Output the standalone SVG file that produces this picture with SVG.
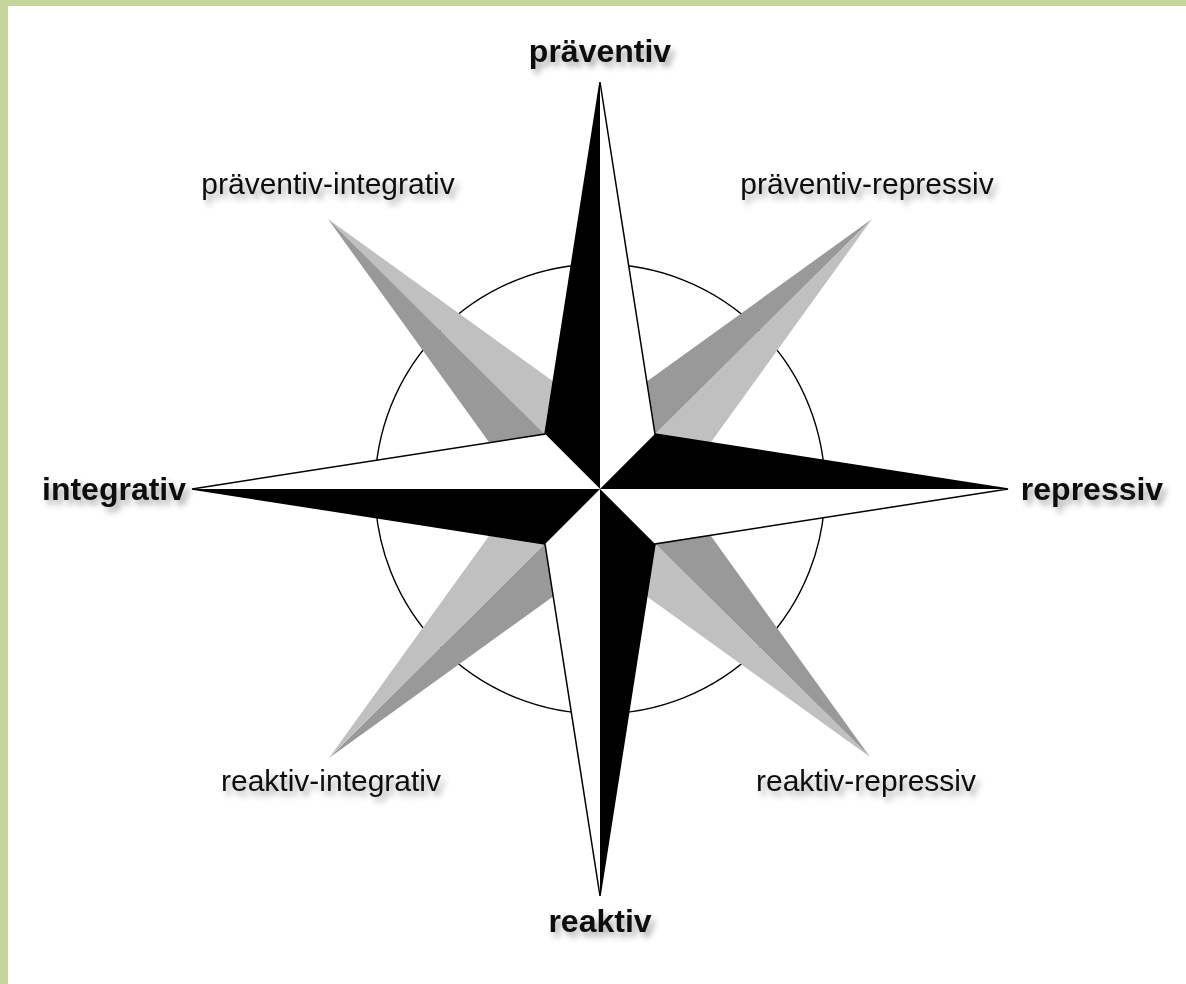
<svg xmlns="http://www.w3.org/2000/svg" width="1186" height="984" viewBox="0 0 1186 984">
<defs>
<filter id="sh" x="-20%" y="-50%" width="140%" height="200%">
<feGaussianBlur in="SourceAlpha" stdDeviation="3"/>
<feOffset dx="4" dy="5" result="b"/>
<feComponentTransfer><feFuncA type="linear" slope="0.35"/></feComponentTransfer>
<feMerge><feMergeNode/><feMergeNode in="SourceGraphic"/></feMerge>
</filter>
</defs>
<style>
.lt{fill:#c0c0c0}
.dk{fill:#999999}
.bk{fill:#000}
.wh{fill:#fff}
.ol{fill:none;stroke:#000;stroke-width:1.5;stroke-linejoin:miter}
.b{font-family:"Liberation Sans",Arial,sans-serif;font-weight:bold;font-size:32px;fill:#111;text-anchor:middle}
.r{font-family:"Liberation Sans",Arial,sans-serif;font-size:30px;fill:#111;text-anchor:middle}
</style>
<rect x="0" y="0" width="1186" height="984" fill="#fff"/>
<rect x="0" y="0" width="1186" height="6" fill="#c4d69b"/>
<rect x="0" y="0" width="8" height="984" fill="#c4d69b"/>
<g id="circle"><circle cx="600" cy="489" r="225" fill="none" stroke="#000" stroke-width="1.4"/></g>
<g id="diagonals">
<g id="arm-nw"><polygon class="lt" points="328,219 607.3,420.5 600,489"/><polygon class="dk" points="328,219 529.5,498.3 600,489"/></g>
<g id="arm-ne"><polygon class="dk" points="872,219 592.7,420.5 600,489"/><polygon class="lt" points="872,219 670.5,498.3 600,489"/></g>
<g id="arm-se"><polygon class="dk" points="870,757 670.5,479.7 600,489"/><polygon class="lt" points="870,757 592.7,557.5 600,489"/></g>
<g id="arm-sw"><polygon class="dk" points="329,758 607.3,557.5 600,489"/><polygon class="lt" points="329,758 529.5,479.7 600,489"/></g>
</g>
<g id="star">
<polygon class="bk" points="600,82 545,434 600,489"/>
<polygon class="wh" points="600,82 655,434 600,489"/>
<polygon class="bk" points="1008,489 655,434 600,489"/>
<polygon class="wh" points="1008,489 655,544 600,489"/>
<polygon class="bk" points="600,896 655,544 600,489"/>
<polygon class="wh" points="600,896 545,544 600,489"/>
<polygon class="bk" points="192,489 545,544 600,489"/>
<polygon class="wh" points="192,489 545,434 600,489"/>
<polygon class="ol" points="600,82 655,434 1008,489 655,544 600,896 545,544 192,489 545,434"/>
</g>
<g id="labels" filter="url(#sh)">
<g id="l-praeventiv"><text class="b" x="600" y="62">präventiv</text></g>
<g id="l-repressiv"><text class="b" x="1092" y="500">repressiv</text></g>
<g id="l-reaktiv"><text class="b" x="600" y="932">reaktiv</text></g>
<g id="l-integrativ"><text class="b" x="114" y="500">integrativ</text></g>
<g id="l-pi"><text class="r" x="328" y="194">präventiv-integrativ</text></g>
<g id="l-pr"><text class="r" x="867" y="194">präventiv-repressiv</text></g>
<g id="l-ri"><text class="r" x="331" y="791">reaktiv-integrativ</text></g>
<g id="l-rr"><text class="r" x="866" y="791">reaktiv-repressiv</text></g>
</g>
</svg>
